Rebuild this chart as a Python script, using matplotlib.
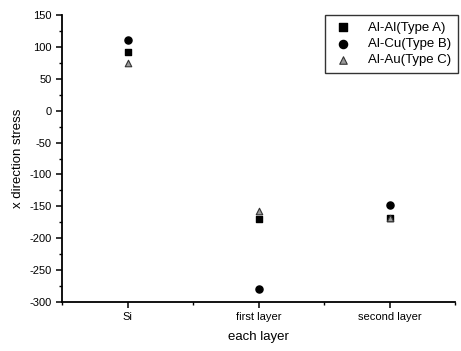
import matplotlib
matplotlib.use("Agg")
import matplotlib.pyplot as plt
from matplotlib.ticker import MultipleLocator

plt.rcParams["font.family"] = ["Liberation Sans", "DejaVu Sans"]
plt.rcParams["axes.unicode_minus"] = False

# data
layers = ["Si", "first layer", "second layer"]
type_a = [92, -170, -168]   # Al-Al(Type A)
type_b = [111, -279, -148]  # Al-Cu(Type B)
type_c = [75, -157, -168]   # Al-Au(Type C)

x = [1, 2, 3]

fig = plt.figure(figsize=(4.61, 3.51), dpi=100)
ax = fig.add_axes([0.1345, 0.1396, 0.8525, 0.8174])

ax.scatter(x, type_a, marker="s", s=24, color="black", label="Al-Al(Type A)", zorder=3)
ax.scatter(x, type_b, marker="o", s=26, color="black", label="Al-Cu(Type B)", zorder=3)
ax.scatter(x, type_c, marker="^", s=22, facecolor="#9a9a9a", edgecolor="#333333",
           linewidth=0.8, label="Al-Au(Type C)", zorder=3)

ax.set_xlim(0.5, 3.5)
ax.set_ylim(-300, 150)
ax.set_xticks(x)
ax.set_xticklabels(layers)
ax.xaxis.set_minor_locator(MultipleLocator(0.5))
ax.yaxis.set_major_locator(MultipleLocator(50))
ax.yaxis.set_minor_locator(MultipleLocator(25))

ax.spines["top"].set_visible(False)
ax.spines["right"].set_visible(False)
for s in ("left", "bottom"):
    ax.spines[s].set_linewidth(1.3)

ax.tick_params(which="major", direction="out", length=4, width=1.1, labelsize=8)
ax.tick_params(which="minor", direction="out", length=2.5, width=1)

ax.set_xlabel("each layer", fontsize=9.5, labelpad=6)
ax.set_ylabel("x direction stress", fontsize=9.5, labelpad=4)

leg = ax.legend(loc="upper right", bbox_to_anchor=(1.008, 1.0), borderaxespad=0,
                fontsize=9.5, frameon=True, fancybox=False, edgecolor="black",
                handletextpad=1.0, handlelength=1.8, borderpad=0.5,
                labelspacing=0.3, markerscale=1.15)
leg.get_frame().set_linewidth(1.0)

fig.savefig("out.png", dpi=100)
